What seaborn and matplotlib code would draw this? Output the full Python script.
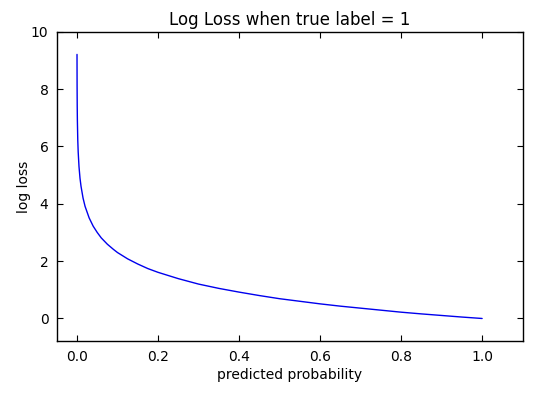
import matplotlib
matplotlib.use('Agg')
import matplotlib.pyplot as plt
import pandas as pd
import seaborn as sns

# values
prob = [0.0001, 0.0003, 0.0006, 0.001, 0.002, 0.003, 0.005, 0.0075, 0.01,
        0.015, 0.02, 0.03, 0.04, 0.05, 0.06, 0.075, 0.09, 0.1, 0.125, 0.15,
        0.175, 0.2, 0.25, 0.3, 0.35, 0.4, 0.45, 0.5, 0.55, 0.6, 0.65, 0.7,
        0.75, 0.8, 0.85, 0.9, 0.95, 1.0]
loss = [9.21, 8.11, 7.42, 6.91, 6.21, 5.81, 5.30, 4.89, 4.61,
        4.20, 3.91, 3.51, 3.22, 3.00, 2.81, 2.59, 2.41, 2.30, 2.08, 1.90,
        1.74, 1.61, 1.39, 1.20, 1.05, 0.92, 0.80, 0.69, 0.60, 0.51, 0.43, 0.36,
        0.29, 0.22, 0.16, 0.105, 0.05, 0.0]

sns.set_style('white')
plt.rcParams['font.family'] = ['DejaVu Sans']
plt.rcParams['text.color'] = 'black'
plt.rcParams['axes.labelcolor'] = 'black'

df = pd.DataFrame({'predicted probability': prob, 'log loss': loss})

fig, ax = plt.subplots(figsize=(5.56, 3.97), dpi=100)
fig.subplots_adjust(left=0.102, right=0.940, top=0.920, bottom=0.140)
sns.lineplot(x='predicted probability', y='log loss', data=df, ax=ax,
             color='#0000ee', linewidth=1.0, sort=False)

ax.set_xlim(-0.05, 1.1)
ax.set_ylim(-0.8, 10)
ax.set_xticks([0.0, 0.2, 0.4, 0.6, 0.8, 1.0])
ax.set_yticks([0, 2, 4, 6, 8, 10])
ax.tick_params(axis='both', which='both', direction='in', length=4, width=0.8,
               top=True, right=True, bottom=True, left=True, labelsize=10,
               colors='black', pad=6)
for s in ax.spines.values():
    s.set_color('black')
    s.set_linewidth(1.0)
ax.set_title('Log Loss when true label = 1', fontsize=12, pad=5,
             color='black')
ax.set_xlabel('predicted probability', fontsize=10, labelpad=3)
ax.set_ylabel('log loss', fontsize=10, labelpad=0)

plt.savefig('out.png', dpi=100, facecolor='white')
plt.close()
# EOF
